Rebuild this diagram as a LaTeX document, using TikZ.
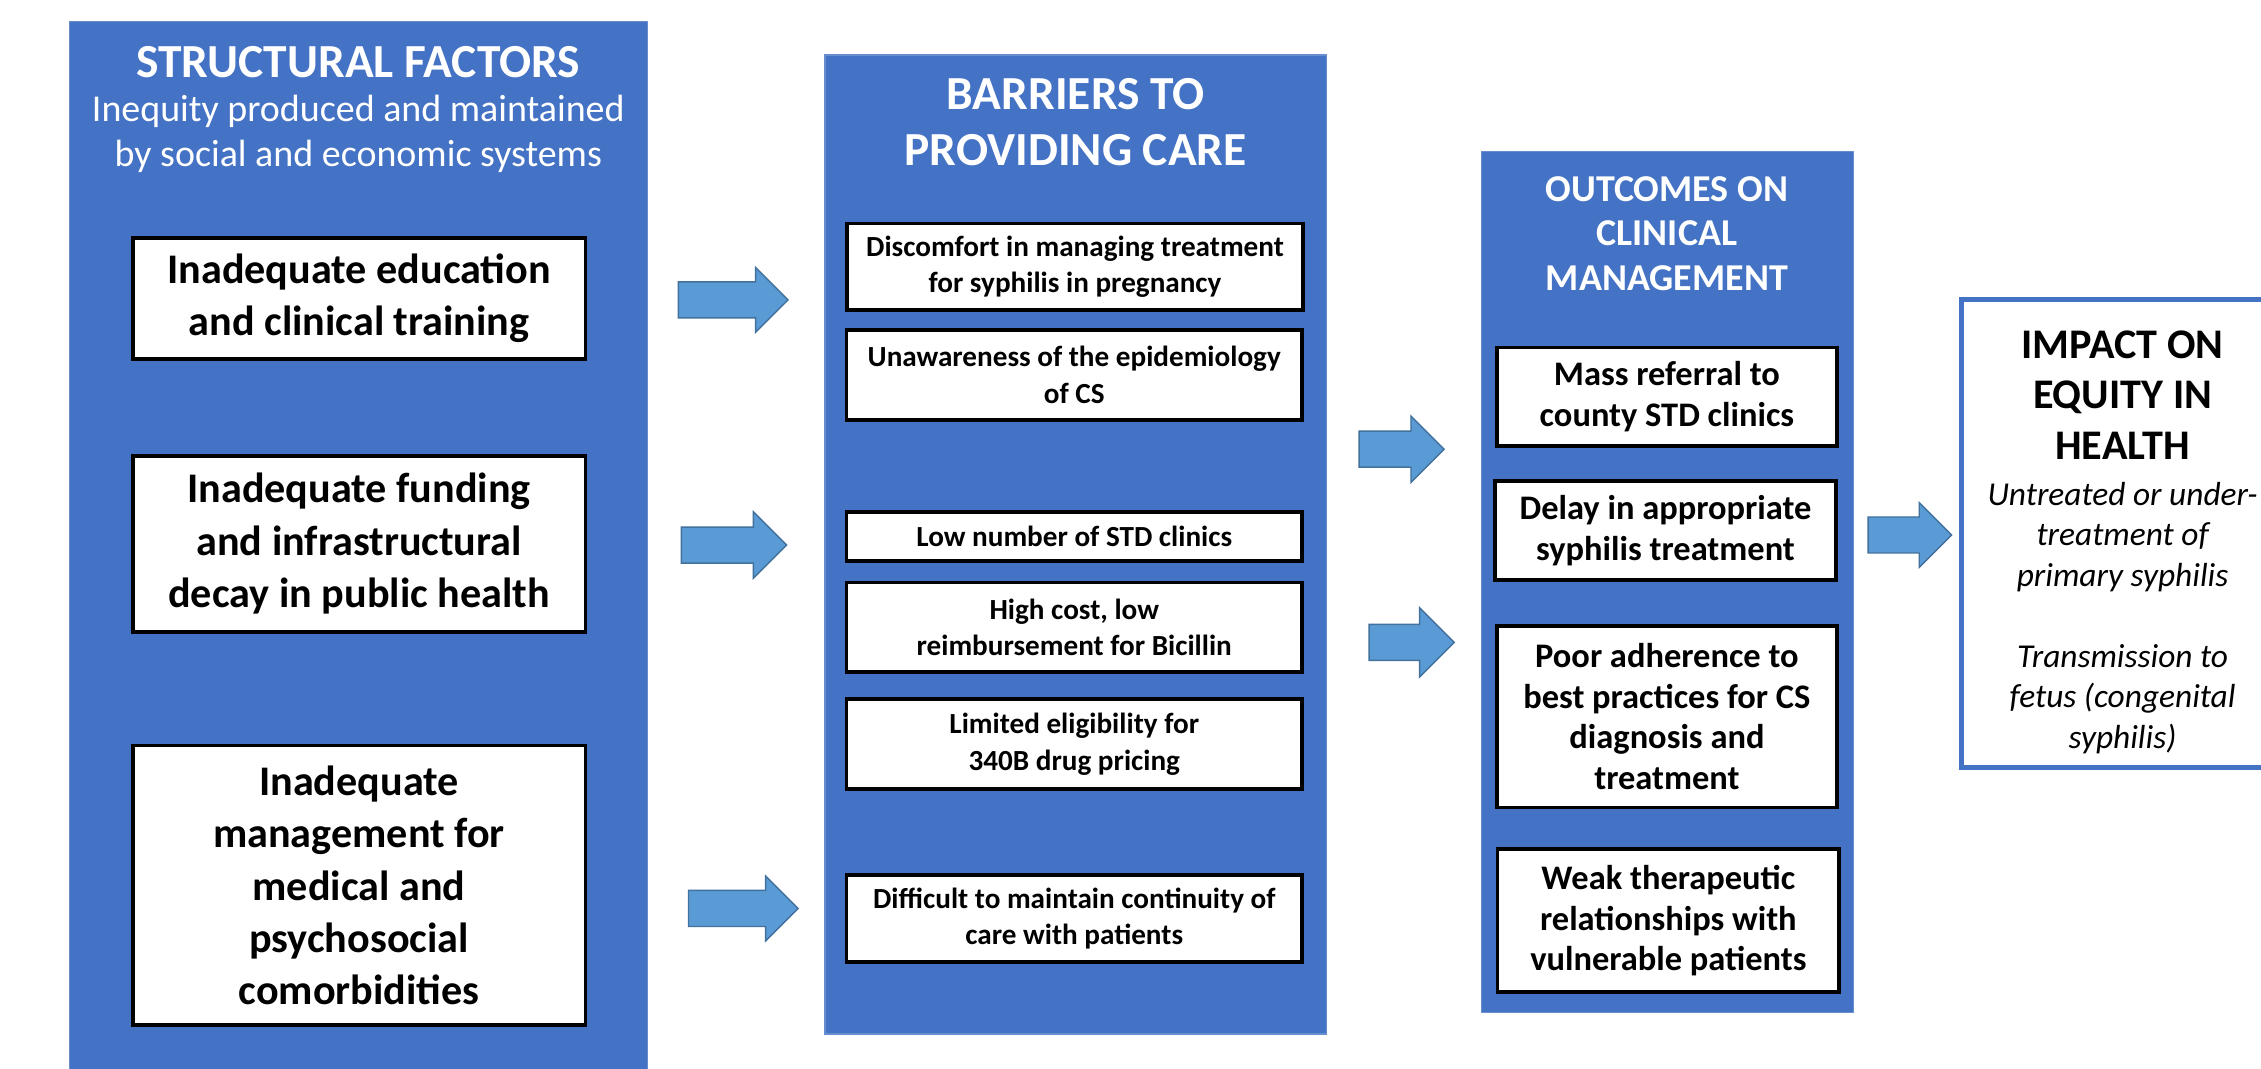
\documentclass[tikz,border=0pt]{standalone}
\usepackage{fontspec}
\setmainfont{Carlito}
\usetikzlibrary{positioning,shapes.arrows}

\definecolor{panelblue}{HTML}{4472C4}
\definecolor{arrowblue}{HTML}{5B9BD5}
\definecolor{arrowedge}{HTML}{41719C}

\newcommand{\pxu}{0.01442cm}

\begin{document}
\begin{tikzpicture}[
        x=\pxu, y=-\pxu,
        boxsize/.style 2 args={minimum width=#1*\pxu, minimum height=#2*\pxu},
        panel/.style={rectangle, draw=panelblue!80!white, fill=panelblue, line width=0.4pt, inner sep=0pt},
        heading/.style={text=white, align=center, inner sep=0pt, font=\bfseries\fontsize{13.5}{16}\selectfont},
        factor/.style={rectangle, draw=black, fill=white, line width=1.1pt, text=black, align=center, inner sep=0pt, font=\bfseries\fontsize{12}{14.9}\selectfont},
        barrier/.style={factor, font=\bfseries\fontsize{8.3}{10.4}\selectfont},
        outcome/.style={factor, font=\bfseries\fontsize{9.8}{11.5}\selectfont},
        bigarrow/.style={single arrow, draw=arrowedge, fill=arrowblue, line width=0.4pt, inner xsep=0pt, inner ysep=12*\pxu, single arrow head extend=#1*\pxu, anchor=tail},
        bigarrow/.default=10
    ]
    \useasboundingbox (0,0) rectangle (1568,741);
    \clip (0,0) rectangle (1568,741);
    \fill[white] (0,0) rectangle (1568,741);

    % Left column - Structural factors
    \node[panel, boxsize={401}{770}] (sf) at (248.5,400) {};
    \node[heading] (sfhead) at (248.5,43) {STRUCTURAL FACTORS};
    \node[heading, font=\fontsize{10.8}{12.7}\selectfont] (sfsub) at (248.5,93) {Inequity produced and maintained\\by social and economic systems};
    \node[factor, boxsize={314}{84}] (edu) at (249,207) {Inadequate education\\and clinical training};
    \node[factor, boxsize={314}{122}] (fund) at (249,377) {Inadequate funding\\and infrastructural\\decay in public health};
    \node[factor, boxsize={314}{194}] (comorb) at (249,614) {Inadequate\\management for\\medical and\\psychosocial\\comorbidities};

    % Middle column - Barriers to providing care
    \node[panel, boxsize={348}{679}] (bar) at (746,377.5) {};
    \node[heading] (barhead) at (746,84.5) {BARRIERS TO\\PROVIDING CARE};
    \node[barrier, boxsize={316}{60}] (discomf) at (745.5,185) {Discomfort in managing treatment\\for syphilis in pregnancy};
    \node[barrier, boxsize={316}{62}] (unaware) at (745,260) {Unawareness of the epidemiology\\of CS};
    \node[barrier, boxsize={316}{34}] (clinics) at (745,372) {Low number of STD clinics};
    \node[barrier, boxsize={316}{62}] (cost) at (745,435) {High cost, low\\reimbursement for Bicillin};
    \node[barrier, boxsize={316}{62}] (pricing) at (745,516) {Limited eligibility for\\340B drug pricing};
    \node[barrier, boxsize={316}{60}] (contin) at (745,637) {Difficult to maintain continuity of\\care with patients};

    % Third column - Outcomes on clinical management
    \node[panel, boxsize={258}{597}] (out) at (1156.5,403.5) {};
    \node[heading, font=\bfseries\fontsize{10.8}{12.6}\selectfont] (outhead) at (1156,162) {OUTCOMES ON\\CLINICAL\\MANAGEMENT};
    \node[outcome, boxsize={236}{68}] (referral) at (1156,275) {Mass referral to\\county STD clinics};
    \node[outcome, boxsize={236}{69}] (delay) at (1155,368) {Delay in appropriate\\syphilis treatment};
    \node[outcome, boxsize={236}{126}] (adher) at (1156,497) {Poor adherence to\\best practices for CS\\diagnosis and\\treatment};
    \node[outcome, boxsize={237}{99}] (weak) at (1157,638.5) {Weak therapeutic\\relationships with\\vulnerable patients};

    % Right column - Impact on equity in health
    \node[rectangle, draw=panelblue, fill=white, line width=1.4pt, boxsize={230}{324}] (impact) at (1475,370) {};
    \node[align=center, inner sep=0pt, font=\bfseries\fontsize{12}{14.4}\selectfont] (imphead) at (1472,274) {IMPACT ON\\EQUITY IN\\HEALTH};
    \node[align=center, inner sep=0pt, font=\itshape\fontsize{9.5}{11.5}\selectfont] (imptext) at (1472,428.5) {Untreated or under-\\treatment of\\primary syphilis\\[11.5pt]Transmission to\\fetus (congenital\\syphilis)};

    % Block arrows between the columns
    \node[bigarrow, minimum height=76*\pxu] (arrA) at (470,208) {};
    \node[bigarrow=10.5, minimum height=73*\pxu] (arrB) at (472,378) {};
    \node[bigarrow, minimum height=76*\pxu] (arrC) at (477,630) {};
    \node[bigarrow=10.5, minimum height=59*\pxu] (arrD) at (942,311.5) {};
    \node[bigarrow=11.5, minimum height=59*\pxu] (arrE) at (949,445.5) {};
    \node[bigarrow, minimum height=58*\pxu] (arrF) at (1295,371) {};
\end{tikzpicture}
\end{document}
